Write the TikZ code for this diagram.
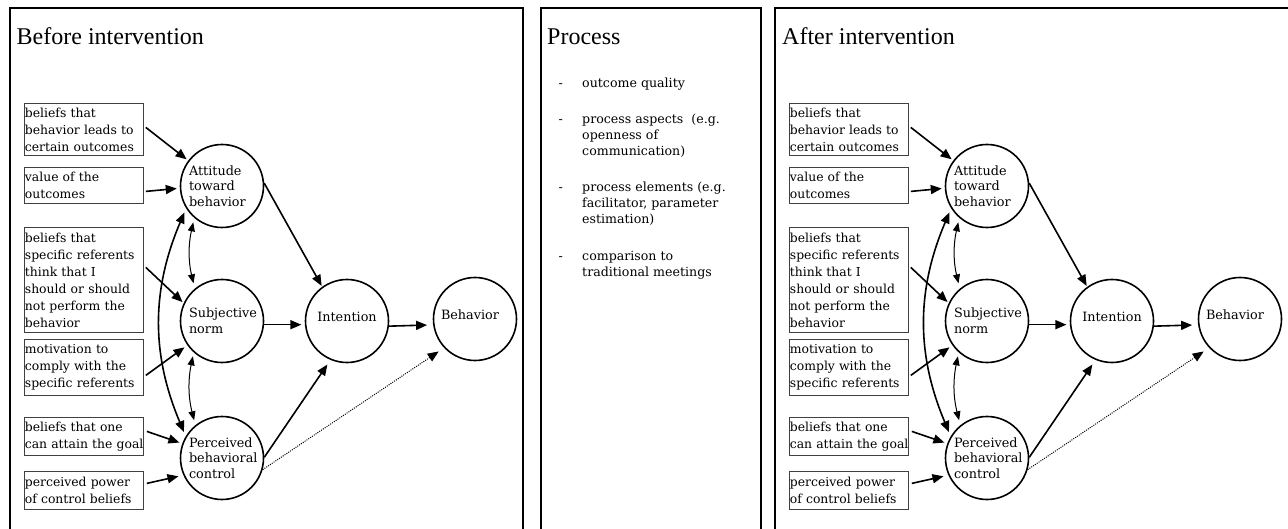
\documentclass[tikz,border=0pt]{standalone}
\usepackage{fontspec}
\setmainfont{Liberation Serif}
\newfontfamily\boxfont{DejaVu Serif}
\usetikzlibrary{arrows.meta}
\tikzset{
  panel/.style={draw=black, line width=2pt},
  titletext/.style={anchor=base west, inner sep=0pt, font=\fontsize{24}{28}\selectfont},
  ibox/.style={draw=black!75, line width=0.8pt, anchor=north west, text width=118pt,
    inner xsep=0.5pt, inner ysep=1.5pt, align=left, font=\boxfont\fontsize{12.4}{17}\selectfont},
  cnode/.style={circle, draw=black, line width=1.6pt, minimum size=83pt, inner sep=0pt,
    font=\boxfont\fontsize{12.8}{15.7}\selectfont},
  ltext/.style={text width=66pt, align=left},
  ctext/.style={text height=9pt, text depth=8pt},
  arr/.style={draw, line width=1.6pt, -{Triangle[length=11pt,width=9pt]}},
  dotarr/.style={draw, line width=1pt, dash pattern=on 1pt off 1.2pt, -{Triangle[length=11pt,width=9pt]}},
  thinbi/.style={draw, line width=1pt, {Triangle[length=9pt,width=7pt]}-{Triangle[length=9pt,width=7pt]}},
  thickbi/.style={draw, line width=1.6pt, {Triangle[length=11pt,width=9pt]}-{Triangle[length=11pt,width=9pt]}},
  ptext/.style={anchor=base west, inner sep=0pt, align=left, font=\boxfont\fontsize{12.6}{16}\selectfont},
}
\newcommand\tpbmodel[1]{%
  \node[ibox, minimum height=52pt] (#1b1) at (24,103) {beliefs that\\behavior leads to\\certain outcomes};
  \node[ibox, minimum height=36pt] (#1b2) at (24,167) {value of the\\outcomes};
  \node[ibox, minimum height=105pt] (#1b3) at (24,227) {beliefs that\\specific referents\\think that I\\should or should\\not perform the\\behavior};
  \node[ibox, minimum height=56pt] (#1b4) at (24,339) {motivation to\\comply with the\\specific referents};
  \node[ibox, minimum height=38pt] (#1b5) at (24,417) {beliefs that one\\\mbox{can attain the goal}};
  \node[ibox, minimum height=38pt] (#1b6) at (24,471) {perceived power\\of control beliefs};
  \node[cnode, ltext] (#1A) at (222,186) {Attitude\\toward\\behavior};
  \node[cnode, ltext] (#1S) at (222,321) {Subjective\\norm};
  \node[cnode, ltext] (#1P) at (222,458) {Perceived\\behavioral\\control};
  \node[cnode, ctext] (#1I) at (347,321) {Intention};
  \node[cnode, ctext] (#1B) at (475,319) {Behavior\hspace*{10pt}};
  \draw[arr, shorten >=2pt] ([xshift=2pt,yshift=2pt]#1b1.east) -- (#1A.143);
  \draw[arr, shorten >=3pt] ([xshift=2pt,yshift=-6pt]#1b2.east) -- (#1A.183);
  \draw[arr, shorten >=1.5pt] ([xshift=2pt,yshift=12.5pt]#1b3.east) -- (#1S.155);
  \draw[arr, shorten >=3.5pt] ([xshift=2pt,yshift=-8pt]#1b4.east) -- (#1S.215);
  \draw[arr, shorten >=3pt] ([xshift=3pt,yshift=5pt]#1b5.east) -- (#1P.160);
  \draw[arr, shorten >=5pt] ([xshift=3pt,yshift=7pt]#1b6.east) -- (#1P.204);
  \draw[arr, shorten >=3.5pt] (#1S.-5) -- (#1I.185);
  \draw[arr, shorten >=6pt] (#1I.-7) -- (#1B.188);
  \draw[arr, shorten >=1pt] (#1A.4) -- (#1I.126);
  \draw[arr, shorten >=5.5pt] (#1P.1) -- (#1I.247);
  \draw[dotarr, shorten >=6.5pt] (#1P.-16) -- (#1B.223);
  \draw[thinbi, shorten <=4.5pt, shorten >=5.4pt] (#1A.229) to[bend right=13] (#1S.130);
  \draw[thinbi, shorten <=4pt, shorten >=5pt] (#1S.228) to[bend right=13] (#1P.129);
  \draw[thickbi, shorten <=4.3pt, shorten >=4.5pt] (#1A.212) to[bend right=23] (#1P.149);
}
\begin{document}
\begin{tikzpicture}[x=1pt,y=-1pt]
\useasboundingbox (0,0) rectangle (1288,529);
\clip (0,0) rectangle (1288,529);
\fill[white] (0,0) rectangle (1288,529);
% panels
\draw[panel] (10,8) rectangle (523,545);
\draw[panel] (541,8) rectangle (761,545);
\draw[panel] (775,8) rectangle (1300,545);
% titles
\node[titletext] (tL) at (16.5,45) {Before intervention};
\node[titletext] (tM) at (547,45) {Process};
\node[titletext] (tR) at (782,45) {After intervention};
% left model
\tpbmodel{L}
% right model
\begin{scope}[xshift=765pt]
\tpbmodel{R}
\end{scope}
% process list (multi-line nodes sit on the baseline of their last line)
\node[ptext] (d1) at (558.5,88) {-};
\node[ptext] (p1) at (582,88) {outcome quality};
\node[ptext] (d2) at (558.5,124) {-};
\node[ptext] (p2) at (582,156) {process aspects~ (e.g.\\openness of\\communication)};
\node[ptext] (d3) at (558.5,192) {-};
\node[ptext] (p3) at (582,224) {process elements (e.g.\\facilitator, parameter\\estimation)};
\node[ptext] (d4) at (558.5,261) {-};
\node[ptext] (p4) at (582,277) {comparison to\\traditional meetings};
\end{tikzpicture}
\end{document}
